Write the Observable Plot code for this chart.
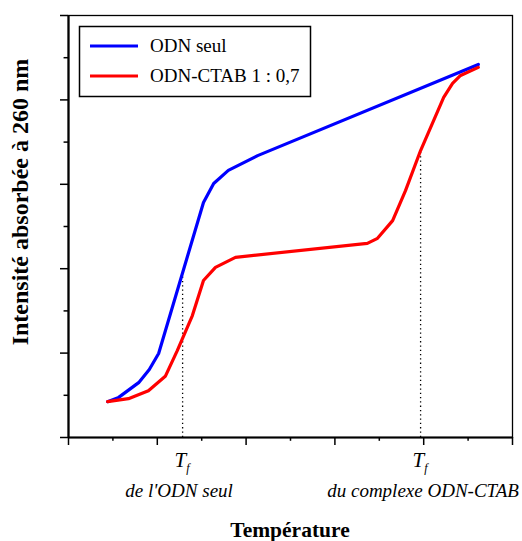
<!DOCTYPE html>
<html><head><meta charset="utf-8">
<script src="https://cdn.jsdelivr.net/npm/d3@7"></script>
<script src="https://cdn.jsdelivr.net/npm/@observablehq/plot@0.6"></script>
<style>
body{margin:0;background:#fff}
svg text, svg tspan { font-family: "Liberation Serif", "Times New Roman", Times, serif !important; }
</style>
</head><body><div id="chart"></div>
<script>
const seriesNames = ["ODN seul", "ODN-CTAB 1 : 0,7"];
const seriesColors = ["#0000ff", "#ff0000"];
const blueX = [0.88, 1.13, 1.58, 1.82, 2.03, 3.04, 3.27, 3.60, 4.26, 9.23];
const blueY = [0.85, 0.95, 1.30, 1.61, 1.99, 5.57, 6.02, 6.33, 6.68, 8.84];
const redX = [0.88, 1.35, 1.80, 2.18, 2.45, 2.79, 3.04, 3.31, 3.76, 6.73, 6.96, 7.30, 7.59, 7.93, 8.45, 8.65, 8.83, 9.23];
const redY = [0.85, 0.92, 1.11, 1.45, 2.06, 2.89, 3.72, 4.03, 4.27, 4.60, 4.72, 5.14, 5.85, 6.80, 8.06, 8.39, 8.58, 8.77];
const tfX = [2.57, 7.93];
const tfY = [3.90, 6.80];
const tfLabel = ["de l'ODN seul", "du complexe ODN-CTAB"];
const xMajor = [0, 2, 4, 6, 8, 10];
const xMinor = [1, 3, 5, 7, 9];
const yMajor = [0, 2, 4, 6, 8, 10];
const yMinor = [1, 3, 5, 7, 9];
const xTitle = "Température";
const yTitle = "Intensité absorbée à 260 nm";

const data = [
  ...blueX.map((x, i) => ({x, y: blueY[i], s: seriesNames[0]})),
  ...redX.map((x, i) => ({x, y: redY[i], s: seriesNames[1]}))
];
const tf = tfX.map((x, i) => ({x, y: tfY[i]}));
const serif = "Liberation Serif, Times New Roman, serif";

const plot = Plot.plot({
  width: 522, height: 541,
  marginLeft: 68, marginRight: 10, marginTop: 15, marginBottom: 104,
  style: {background: "#fff"},
  x: {domain: [0, 10], axis: null},
  y: {domain: [0, 10], axis: null},
  color: {domain: seriesNames, range: seriesColors},
  marks: [
    Plot.frame({stroke: "#000", strokeWidth: 1.3}),
    Plot.ruleX(xMajor, {x: d => d, y1: -0.19, y2: 0, clip: false, stroke: "#000", strokeWidth: 1.5}),
    Plot.ruleX(xMinor, {x: d => d, y1: -0.09, y2: 0, stroke: "#000", strokeWidth: 1.5}),
    Plot.ruleY(yMajor, {y: d => d, x1: -0.18, x2: 0, stroke: "#000", strokeWidth: 1.5}),
    Plot.ruleY(yMinor, {y: d => d, x1: -0.1, x2: 0, stroke: "#000", strokeWidth: 1.5}),
    Plot.ruleX([0], {stroke: "#000", strokeWidth: 2.2}),
    Plot.ruleY([0], {stroke: "#000", strokeWidth: 2.2}),
    Plot.ruleX(tf, {x: "x", y1: 0, y2: "y", stroke: "#000", strokeWidth: 1.3, strokeDasharray: "1.3,3"}),
    Plot.line(data, {x: "x", y: "y", z: "s", stroke: "s", strokeWidth: 3.2, curve: "linear"})
  ]
});
document.getElementById("chart").appendChild(plot);

const svg = d3.select(plot);
svg.attr("overflow", "visible");
const sx = plot.scale("x"), sy = plot.scale("y");
const X = v => sx.apply(v), Y = v => sy.apply(v);

function txt(sel) {
  return sel.append("text").style("font-family", serif).attr("fill", "#000");
}

// Tf labels
tf.forEach((d, i) => {
  const t = txt(svg).attr("x", X(d.x)).attr("y", 467)
    .attr("text-anchor", "middle").attr("font-style", "italic").attr("font-size", 21);
  t.append("tspan").text("T");
  t.append("tspan").attr("font-size", 12).attr("dy", 5).text("f");
  txt(svg).attr("x", X(d.x) + (i === 0 ? -3 : 3)).attr("y", 497)
    .attr("text-anchor", "middle").attr("font-style", "italic").attr("font-size", 19)
    .text(tfLabel[i]);
});

// Axis titles
txt(svg).attr("x", (X(0) + X(10)) / 2).attr("y", 537)
  .attr("text-anchor", "middle").attr("font-weight", "bold").attr("font-size", 21.5).text(xTitle);
txt(svg).attr("transform", `translate(28,${Y(5) - 24}) rotate(-90)`)
  .attr("text-anchor", "middle").attr("font-weight", "bold").attr("font-size", 24).text(yTitle);

// Legend
const lg = svg.append("g");
lg.append("rect").attr("x", 79.5).attr("y", 26.5).attr("width", 231).attr("height", 70)
  .attr("fill", "#fff").attr("stroke", "#000").attr("stroke-width", 1.5);
seriesNames.forEach((n, i) => {
  const yy = 46 + i * 30;
  lg.append("line").attr("x1", 90).attr("x2", 138).attr("y1", yy).attr("y2", yy)
    .attr("stroke", seriesColors[i]).attr("stroke-width", 3);
  txt(lg).attr("x", 150).attr("y", yy + 6).attr("text-anchor", "start")
    .attr("font-size", 19).text(n);
});
</script>
</body></html>
